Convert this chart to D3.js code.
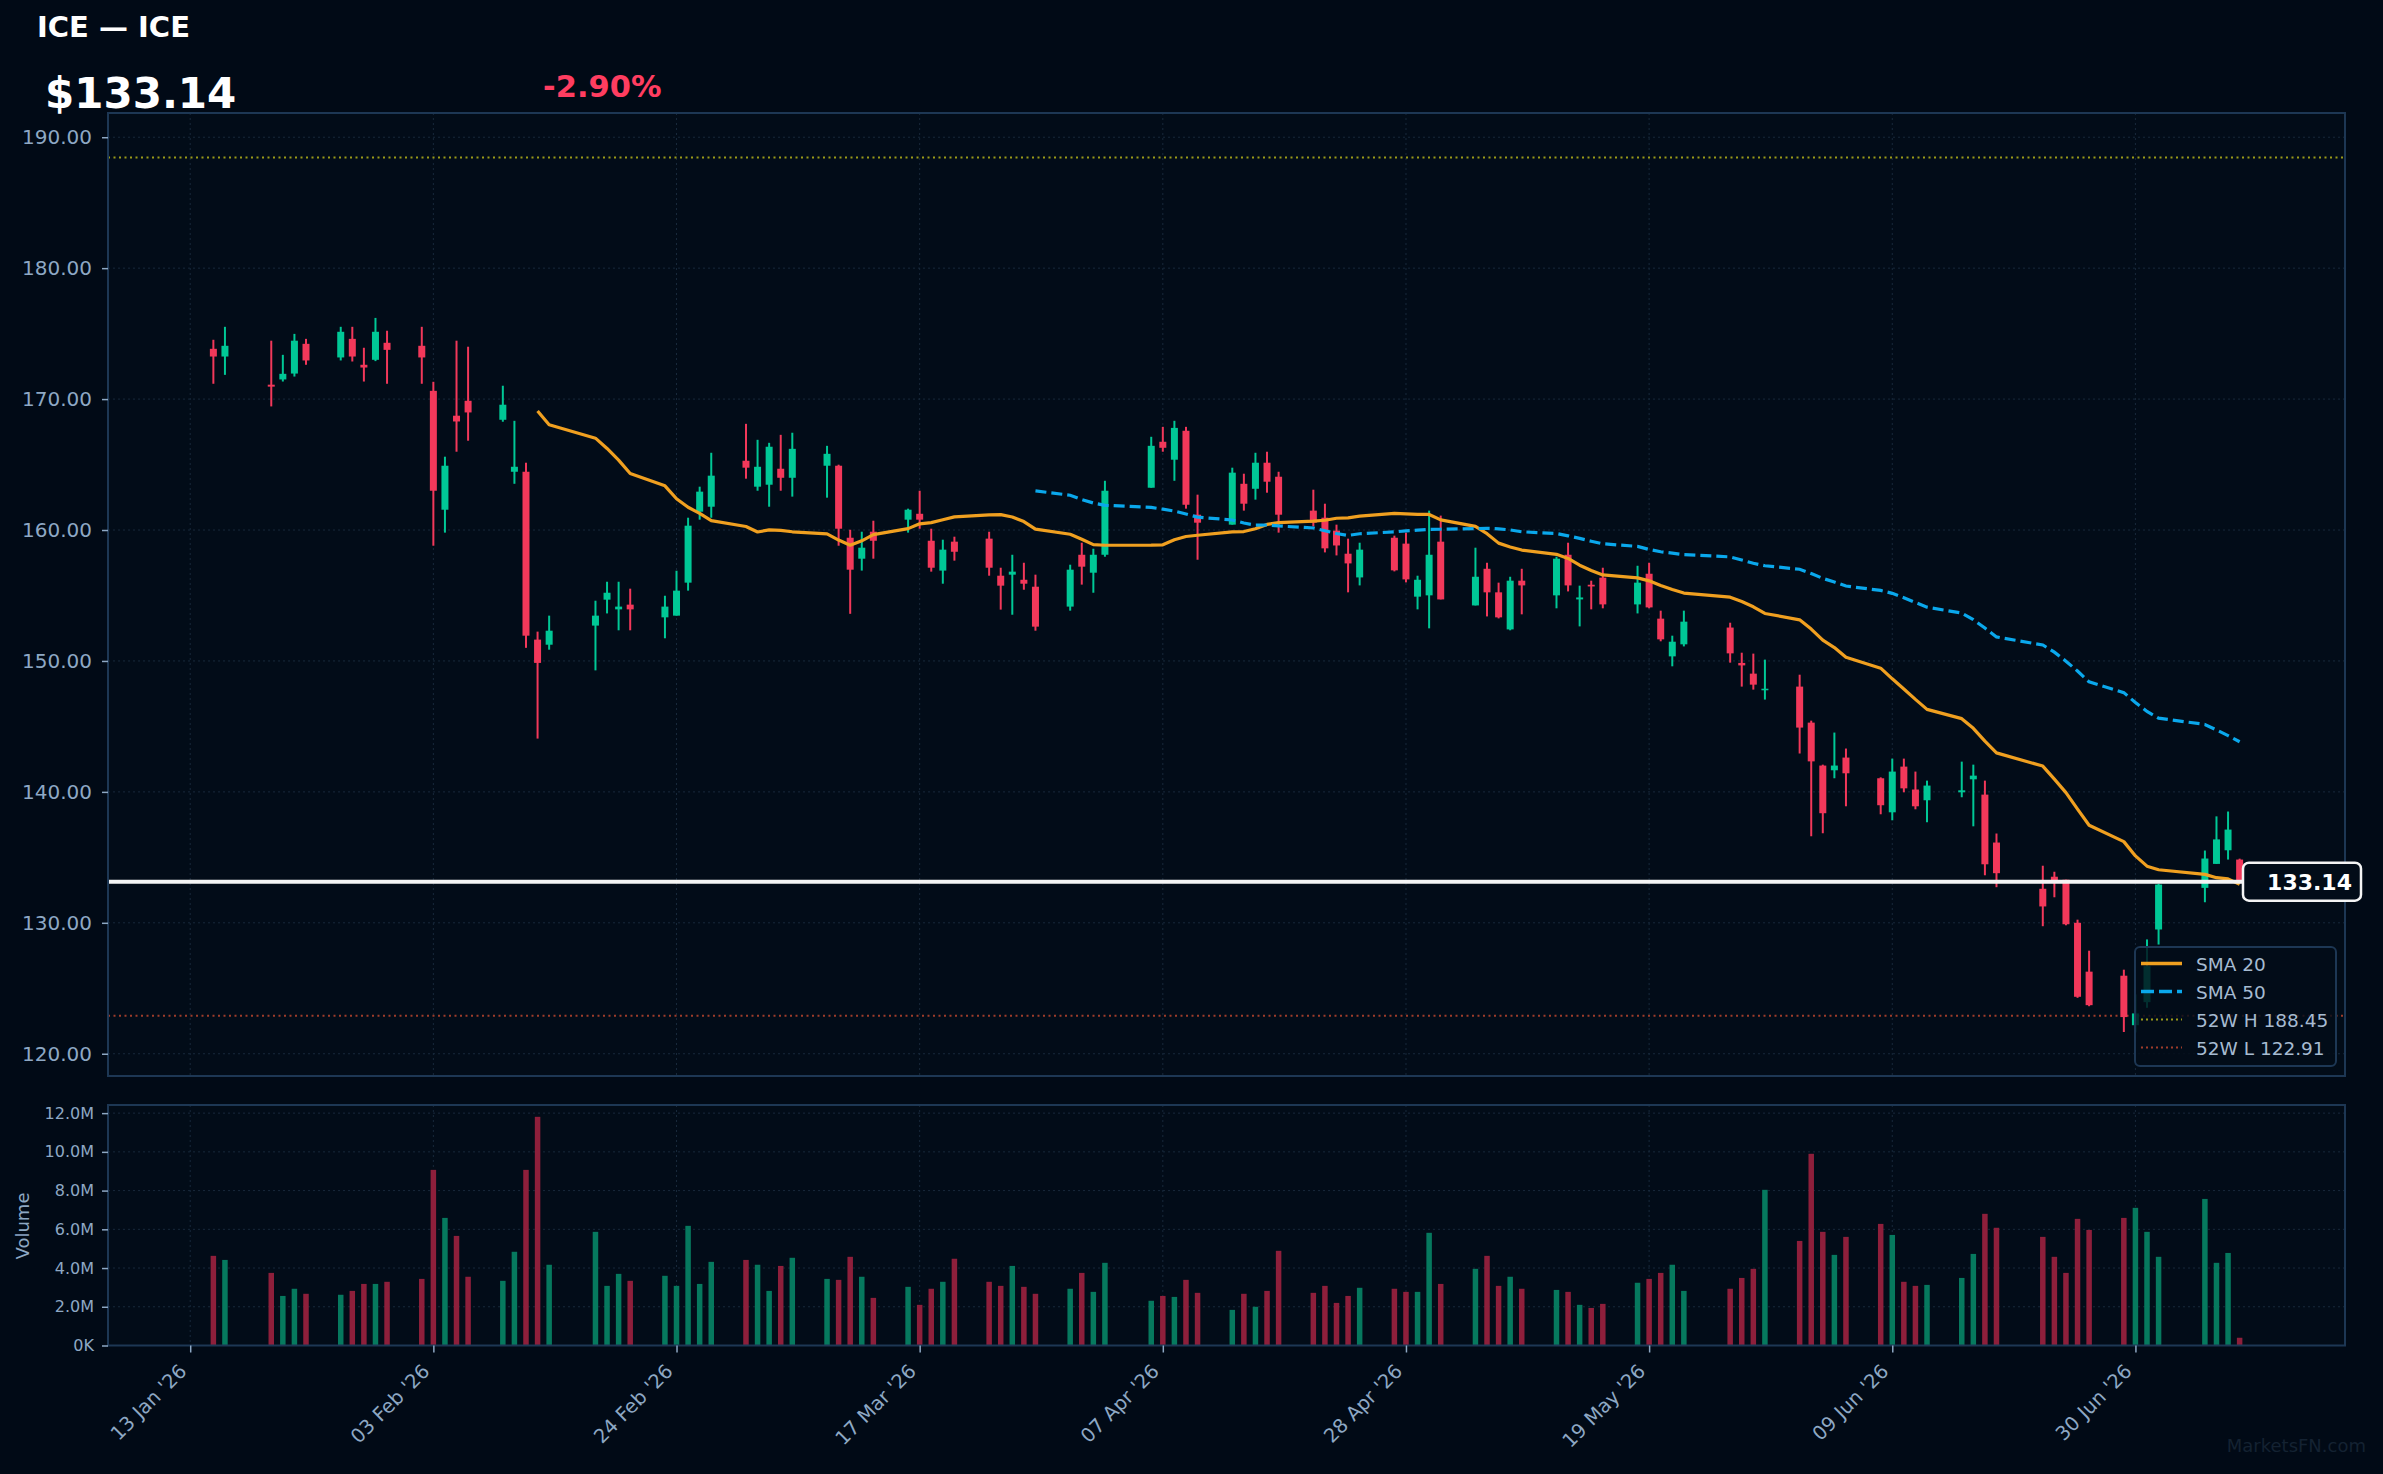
<!DOCTYPE html>
<html><head><meta charset="utf-8">
<script src="https://cdn.jsdelivr.net/npm/d3@7/dist/d3.min.js"></script>
<style>
html,body{margin:0;padding:0;background:#010a16;}
svg{display:block;font-family:"DejaVu Sans",sans-serif;}
</style></head><body>
<svg id="c" width="2383" height="1474"></svg>
<script>
// ---------------- DATA ----------------
const dates = ["2026-01-15","2026-01-16","2026-01-20","2026-01-21","2026-01-22","2026-01-23","2026-01-26","2026-01-27","2026-01-28","2026-01-29","2026-01-30",
"2026-02-02","2026-02-03","2026-02-04","2026-02-05","2026-02-06","2026-02-09","2026-02-10","2026-02-11","2026-02-12","2026-02-13","2026-02-17","2026-02-18","2026-02-19","2026-02-20","2026-02-23","2026-02-24","2026-02-25","2026-02-26","2026-02-27",
"2026-03-02","2026-03-03","2026-03-04","2026-03-05","2026-03-06","2026-03-09","2026-03-10","2026-03-11","2026-03-12","2026-03-13","2026-03-16","2026-03-17","2026-03-18","2026-03-19","2026-03-20","2026-03-23","2026-03-24","2026-03-25","2026-03-26","2026-03-27","2026-03-30","2026-03-31",
"2026-04-01","2026-04-02","2026-04-06","2026-04-07","2026-04-08","2026-04-09","2026-04-10","2026-04-13","2026-04-14","2026-04-15","2026-04-16","2026-04-17","2026-04-20","2026-04-21","2026-04-22","2026-04-23","2026-04-24","2026-04-27","2026-04-28","2026-04-29","2026-04-30",
"2026-05-01","2026-05-04","2026-05-05","2026-05-06","2026-05-07","2026-05-08","2026-05-11","2026-05-12","2026-05-13","2026-05-14","2026-05-15","2026-05-18","2026-05-19","2026-05-20","2026-05-21","2026-05-22","2026-05-26","2026-05-27","2026-05-28","2026-05-29",
"2026-06-01","2026-06-02","2026-06-03","2026-06-04","2026-06-05","2026-06-08","2026-06-09","2026-06-10","2026-06-11","2026-06-12","2026-06-15","2026-06-16","2026-06-17","2026-06-18","2026-06-22","2026-06-23","2026-06-24","2026-06-25","2026-06-26","2026-06-29","2026-06-30",
"2026-07-01","2026-07-02","2026-07-06","2026-07-07","2026-07-08","2026-07-09"];

const opens = [173.84,173.25,171.10,171.50,171.95,174.22,173.18,174.60,172.62,173.00,174.30,
174.07,170.63,161.55,168.73,169.87,168.42,164.45,164.45,151.63,151.24,152.70,154.68,153.94,154.30,153.33,153.46,155.98,161.40,161.78,
165.29,163.31,163.46,164.68,163.99,164.91,164.91,159.41,157.81,159.87,160.79,161.24,159.18,156.90,159.11,159.34,156.51,156.59,156.20,155.67,154.15,158.11,
156.74,158.11,163.23,166.74,165.37,167.58,161.17,160.41,163.53,163.15,165.14,164.07,161.48,160.94,159.95,158.19,156.38,159.41,158.96,154.91,155.01,
159.11,154.24,157.04,155.24,152.41,156.13,155.01,158.11,154.70,155.82,156.36,154.32,156.66,153.23,150.35,151.27,152.55,149.85,149.03,147.76,
148.04,145.29,142.01,141.65,142.62,141.04,138.44,141.93,140.18,139.36,139.97,140.96,139.79,136.13,132.60,133.52,133.29,130.00,126.27,125.96,122.18,
123.94,129.49,132.67,134.50,135.54,134.83];

const highs = [174.53,175.52,174.46,173.38,174.98,174.60,175.52,175.52,173.92,176.20,175.22,
175.52,171.32,165.60,174.46,174.00,171.02,168.34,165.14,152.24,153.46,154.60,156.05,156.05,155.52,154.98,156.89,160.94,163.31,165.90,
168.11,166.89,166.66,167.27,167.43,166.43,164.99,160.02,159.87,160.71,161.63,163.00,160.10,159.26,159.49,159.87,157.12,158.11,157.50,156.59,157.35,159.03,
158.57,163.76,167.12,167.88,168.34,167.88,162.70,164.76,164.30,165.90,165.98,164.45,163.08,162.01,160.41,159.34,159.03,159.57,159.80,156.51,161.48,
161.10,158.65,157.50,155.98,156.43,157.04,157.96,159.03,155.75,156.13,157.12,157.27,157.50,153.84,151.93,153.84,152.92,150.63,150.56,150.10,
148.95,145.44,142.08,144.53,143.31,141.11,142.54,142.54,141.55,140.86,142.31,142.08,140.86,136.82,134.36,133.90,133.29,130.24,127.87,126.42,124.53,
128.73,132.98,135.52,138.13,138.50,134.90];

const lows = [171.17,171.85,169.44,171.34,171.72,172.62,172.95,172.87,171.34,172.90,171.17,
171.17,158.80,159.80,165.98,166.82,168.27,163.53,151.00,144.07,150.86,149.28,153.63,152.34,152.34,151.73,153.46,155.37,160.79,160.94,
163.92,163.00,161.78,163.00,162.55,162.47,158.80,153.60,156.90,157.81,159.80,160.10,156.82,155.90,157.66,156.51,153.92,153.53,155.44,152.31,153.84,155.83,
155.21,157.96,163.23,165.98,163.76,161.63,157.73,160.41,161.48,162.32,162.85,159.80,160.27,158.29,158.06,155.24,155.77,156.84,156.00,153.94,152.49,
154.70,154.24,153.40,153.25,152.34,153.56,154.02,155.31,152.64,153.94,154.02,153.63,154.02,151.50,149.59,151.11,149.87,148.04,147.81,147.05,
142.93,136.61,136.84,141.04,138.90,138.29,137.83,139.97,138.67,137.68,139.59,137.37,133.63,132.72,129.74,131.95,129.81,124.27,123.63,121.66,121.63,
123.51,128.34,131.57,134.50,134.83,133.00];

const closes = [173.25,174.07,170.95,171.93,174.46,172.95,175.14,173.25,172.41,175.14,173.76,
173.18,163.00,164.91,168.29,168.98,169.57,164.83,151.93,149.85,152.31,153.46,155.21,154.15,153.94,154.15,155.37,160.33,162.93,164.15,
164.76,164.83,166.36,163.99,166.20,165.82,160.10,156.97,158.65,159.18,161.55,160.79,157.12,158.50,158.34,157.12,155.75,156.82,155.90,152.62,156.97,157.20,
158.11,163.00,166.43,166.28,167.80,161.93,160.56,164.38,162.01,165.14,163.69,161.17,160.56,158.60,158.82,157.45,158.50,156.92,156.23,156.20,158.11,
154.70,156.43,155.24,153.33,156.13,155.77,157.81,155.77,154.85,155.69,154.32,155.98,154.09,151.65,151.47,153.00,150.58,149.66,148.19,147.88,
144.91,142.33,138.37,142.01,141.42,138.98,141.55,140.27,138.90,140.48,140.12,141.24,134.47,133.79,131.25,133.17,129.89,124.35,123.71,122.80,123.08,
126.69,132.92,134.91,136.37,137.12,133.14];

// volume in millions of shares
const volumesM = [4.63,4.42,3.75,2.56,2.93,2.67,2.62,2.82,3.18,3.18,3.29,
3.44,9.07,6.59,5.66,3.55,3.34,4.84,9.07,11.81,4.17,5.87,3.08,3.70,3.34,3.60,3.08,6.18,3.18,4.32,
4.42,4.17,2.82,4.11,4.53,3.44,3.39,4.58,3.55,2.46,3.03,2.10,2.93,3.29,4.48,3.29,3.08,4.11,3.03,2.67,2.93,3.75,
2.77,4.27,2.31,2.56,2.51,3.39,2.72,1.84,2.67,2.00,2.82,4.89,2.72,3.08,2.20,2.56,2.98,2.93,2.77,2.77,5.82,
3.18,3.96,4.63,3.08,3.55,2.93,2.87,2.77,2.10,1.94,2.15,3.24,3.44,3.75,4.17,2.82,2.93,3.49,3.96,8.04,
5.40,9.90,5.87,4.68,5.61,6.28,5.71,3.29,3.08,3.13,3.49,4.73,6.80,6.08,5.61,4.58,3.75,6.54,5.97,6.59,7.11,
5.87,4.58,7.57,4.27,4.78,0.40];

const priceTicks = [120,130,140,150,160,170,180,190];
const volumeTicks = [0,2e6,4e6,6e6,8e6,10e6,12e6];
const xTickDates = ["2026-01-13","2026-02-03","2026-02-24","2026-03-17","2026-04-07","2026-04-28","2026-05-19","2026-06-09","2026-06-30"];
const xTickLabels = ["13 Jan '26","03 Feb '26","24 Feb '26","17 Mar '26","07 Apr '26","28 Apr '26","19 May '26","09 Jun '26","30 Jun '26"];

const ticker = "ICE";
const lastPrice = 133.14;
const changePct = -2.90;
const high52 = 188.45;
const low52 = 122.91;

// ---------------- CHART ----------------
const C = {
  bg:"#010a16", plotBg:"#020c18", border:"#1d3754", grid:"#18293b", axis:"#8ea8c4",
  up:"#00c896", down:"#f2385a", volUp:"#06795e", volDown:"#8e1f3b",
  sma20:"#f0a020", sma50:"#0aa8ec", h52:"#9a9a18", l52:"#9e3c2a"
};
const svg = d3.select("#c");
svg.append("rect").attr("width",2383).attr("height",1474).attr("fill",C.bg);

const parse = d3.utcParse("%Y-%m-%d");
const data = dates.map((d,i)=>({date:parse(d),o:opens[i],h:highs[i],l:lows[i],c:closes[i],v:volumesM[i]*1e6}));
const t0 = data[0].date.getTime(), t1 = data[data.length-1].date.getTime();
const pad = (t1-t0)*0.052;

const P = {l:108, r:2345, t:113, b:1076};
const V = {t:1105, b:1345.5};

const x = d3.scaleUtc().domain([new Date(t0-pad), new Date(t1+pad)]).range([P.l, P.r]);
const y = d3.scaleLinear().domain([118.3, 191.85]).range([P.b, P.t]);
const yv = d3.scaleLinear().domain([0, 12.42e6]).range([V.b, V.t]);
const tickD = xTickDates.map(parse);

// panels backgrounds
svg.append("rect").attr("x",P.l).attr("y",P.t).attr("width",P.r-P.l).attr("height",P.b-P.t).attr("fill",C.plotBg);
svg.append("rect").attr("x",P.l).attr("y",V.t).attr("width",P.r-P.l).attr("height",V.b-V.t).attr("fill",C.plotBg);

// grids
const g = svg.append("g").attr("stroke",C.grid).attr("stroke-width",1).attr("stroke-dasharray","2,3");
priceTicks.forEach(t=>g.append("line").attr("x1",P.l).attr("x2",P.r).attr("y1",y(t)).attr("y2",y(t)));
tickD.forEach(t=>{
  g.append("line").attr("x1",x(t)).attr("x2",x(t)).attr("y1",P.t).attr("y2",P.b);
  g.append("line").attr("x1",x(t)).attr("x2",x(t)).attr("y1",V.t).attr("y2",V.b);
});
volumeTicks.forEach(t=>g.append("line").attr("x1",P.l).attr("x2",P.r).attr("y1",yv(t)).attr("y2",yv(t)));

// 52w lines
svg.append("line").attr("x1",P.l).attr("x2",P.r).attr("y1",y(high52)).attr("y2",y(high52))
  .attr("stroke",C.h52).attr("stroke-width",2).attr("stroke-dasharray","2,3.5");
svg.append("line").attr("x1",P.l).attr("x2",P.r).attr("y1",y(low52)).attr("y2",y(low52))
  .attr("stroke",C.l52).attr("stroke-width",2).attr("stroke-dasharray","2,3.5");

// volume bars
const bw = 6.5;
svg.append("g").selectAll("rect").data(data).join("rect")
  .attr("x",d=>x(d.date)-bw/2+0.5).attr("width",bw-1)
  .attr("y",d=>yv(d.v)).attr("height",d=>yv(0)-yv(d.v))
  .attr("fill",d=>d.c>=d.o?C.volUp:C.volDown);

// candles
const cg = svg.append("g");
cg.selectAll("line").data(data).join("line")
  .attr("x1",d=>x(d.date)).attr("x2",d=>x(d.date))
  .attr("y1",d=>y(d.h)).attr("y2",d=>y(d.l))
  .attr("stroke",d=>d.c>=d.o?C.up:C.down).attr("stroke-width",2);
cg.selectAll("rect").data(data).join("rect")
  .attr("x",d=>x(d.date)-3.5).attr("width",7)
  .attr("y",d=>y(Math.max(d.o,d.c))).attr("height",d=>Math.max(1.5,Math.abs(y(d.o)-y(d.c))))
  .attr("fill",d=>d.c>=d.o?C.up:C.down);

// moving averages computed from closes
function sma(n){return closes.map((v,i)=>i<n-1?null:d3.mean(closes.slice(i-n+1,i+1)));}
const s20 = sma(20), s50 = sma(50);
const line = d3.line().defined(d=>d[1]!=null).x(d=>x(d[0])).y(d=>y(d[1]));
svg.append("path").attr("d",line(data.map((d,i)=>[d.date,s20[i]]))).attr("fill","none")
  .attr("stroke",C.sma20).attr("stroke-width",3.2).attr("stroke-linejoin","round");
svg.append("path").attr("d",line(data.map((d,i)=>[d.date,s50[i]]))).attr("fill","none")
  .attr("stroke",C.sma50).attr("stroke-width",3.2).attr("stroke-dasharray","11,5");

// last price line
const lpY = y(lastPrice);
svg.append("line").attr("x1",P.l).attr("x2",2243).attr("y1",lpY).attr("y2",lpY)
  .attr("stroke","#f4f4f4").attr("stroke-width",4);

// panel borders
svg.append("rect").attr("x",P.l).attr("y",P.t).attr("width",P.r-P.l).attr("height",P.b-P.t)
  .attr("fill","none").attr("stroke",C.border).attr("stroke-width",2);
svg.append("rect").attr("x",P.l).attr("y",V.t).attr("width",P.r-P.l).attr("height",V.b-V.t)
  .attr("fill","none").attr("stroke",C.border).attr("stroke-width",2);

// last price label
svg.append("rect").attr("x",2243).attr("y",lpY-19).attr("width",118).attr("height",38).attr("rx",6)
  .attr("fill","#020c18").attr("stroke","#f4f4f4").attr("stroke-width",2.5);
svg.append("text").attr("x",2352).attr("y",lpY+8).attr("text-anchor","end")
  .attr("font-size",22).attr("font-weight","bold").attr("fill","#ffffff").text(lastPrice.toFixed(2));

// axes
const ya = svg.append("g").attr("transform",`translate(${P.l},0)`)
  .call(d3.axisLeft(y).tickValues(priceTicks).tickFormat(d3.format(".2f")).tickSize(6).tickPadding(10));
const yva = svg.append("g").attr("transform",`translate(${P.l},0)`)
  .call(d3.axisLeft(yv).tickValues(volumeTicks).tickFormat(v=>v===0?"0K":(v/1e6).toFixed(1)+"M").tickSize(6).tickPadding(8));
const xa = svg.append("g").attr("transform",`translate(0,${V.b})`)
  .call(d3.axisBottom(x).tickValues(tickD).tickFormat((d,i)=>xTickLabels[i]).tickSize(7));
[ya,yva,xa].forEach(a=>{a.select(".domain").remove();a.selectAll("line").attr("stroke",C.axis).attr("stroke-width",1.5);
  a.selectAll("text").attr("fill",C.axis).attr("font-family","DejaVu Sans");});
ya.selectAll("text").attr("font-size",20);
yva.selectAll("text").attr("font-size",16);
xa.selectAll("text").attr("font-size",19.5).attr("text-anchor","end").attr("y",0).attr("dy",0)
  .attr("transform","translate(-3,27) rotate(-45)");

svg.append("text").attr("transform","translate(29,1226) rotate(-90)").attr("text-anchor","middle")
  .attr("font-size",18).attr("fill",C.axis).text("Volume");

// legend
const lg = svg.append("g").attr("transform","translate(2135,947)");
lg.append("rect").attr("width",201).attr("height",119).attr("rx",5)
  .attr("fill","#020c18").attr("fill-opacity",0.82).attr("stroke",C.border).attr("stroke-width",2);
const items = [
  {t:"SMA 20", c:C.sma20, w:3.5, d:null},
  {t:"SMA 50", c:C.sma50, w:3.5, d:"13,5"},
  {t:"52W H "+high52.toFixed(2), c:C.h52, w:2, d:"2,3"},
  {t:"52W L "+low52.toFixed(2), c:C.l52, w:2, d:"2,3"}
];
items.forEach((it,i)=>{
  const yy = 16.5+28*i;
  lg.append("line").attr("x1",6).attr("x2",47).attr("y1",yy).attr("y2",yy)
    .attr("stroke",it.c).attr("stroke-width",it.w).attr("stroke-dasharray",it.d);
  lg.append("text").attr("x",61).attr("y",yy+7).attr("font-size",18.5).attr("fill","#a6bbd1").text(it.t);
});

// header
svg.append("text").attr("x",37).attr("y",37).attr("font-size",29).attr("font-weight","bold")
  .attr("fill","#ffffff").text(`${ticker} — ${ticker}`);
svg.append("text").attr("x",45).attr("y",108).attr("font-size",42).attr("font-weight","bold")
  .attr("fill","#ffffff").text("$"+lastPrice.toFixed(2));
svg.append("text").attr("x",543).attr("y",97).attr("font-size",30.5).attr("font-weight","bold")
  .attr("fill","#ff3d60").text(changePct.toFixed(2)+"%");

// watermark
svg.append("text").attr("x",2366).attr("y",1452).attr("text-anchor","end").attr("font-size",18)
  .attr("fill","#142232").text("MarketsFN.com");
</script>
</body></html>
